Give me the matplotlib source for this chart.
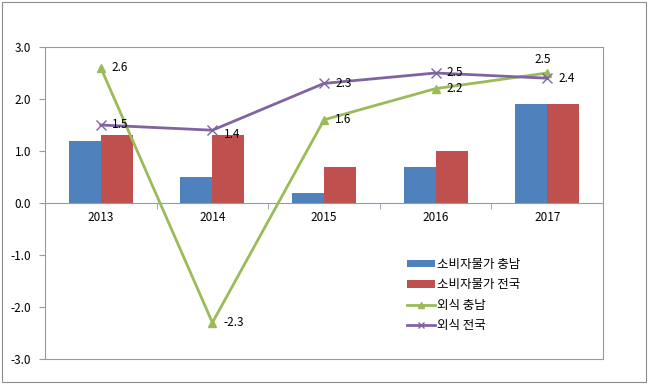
import numpy as np
import matplotlib.pyplot as plt
from matplotlib.patches import Rectangle
from matplotlib.lines import Line2D

plt.rcParams['font.family'] = ['Noto Sans CJK KR', 'DejaVu Sans']

years = ['2013', '2014', '2015', '2016', '2017']
cpi_chungnam = [1.2, 0.5, 0.2, 0.7, 1.9]
cpi_national = [1.3, 1.3, 0.7, 1.0, 1.9]
dining_chungnam = [2.6, -2.3, 1.6, 2.2, 2.5]
dining_national = [1.5, 1.4, 2.3, 2.5, 2.4]

labels = ['소비자물가 충남', '소비자물가 전국', '외식 충남', '외식 전국']

fig = plt.figure(figsize=(6.48, 3.84), dpi=100)
ax = fig.add_axes([45 / 648, 1 - 359 / 384, 558 / 648, 312 / 384])

x = np.arange(len(years))
w = 0.286
b1 = ax.bar(x - w / 2, cpi_chungnam, w, color='#4F81BD', zorder=2)
b2 = ax.bar(x + w / 2, cpi_national, w, color='#C0504D', zorder=2)
ax.plot(x, dining_chungnam, color='#9BBB59', lw=2.0, marker='^', ms=6, zorder=5)
ax.plot(x, dining_national, color='#8064A2', lw=2.0, marker='x', ms=7,
        mew=1.0, zorder=5)

# data labels
fs = 8.5
for i, v in enumerate(dining_chungnam):
    if i == 4:
        ax.annotate(f'{v:.1f}', (i, v), xytext=(-3, 5), textcoords='offset points',
                    fontsize=fs, ha='center', va='bottom', zorder=6)
    else:
        ax.annotate(f'{v:.1f}', (i, v), xytext=(8, 0), textcoords='offset points',
                    fontsize=fs, ha='left', va='center', zorder=6)
for i, v in enumerate(dining_national):
    dy = -3 if i == 1 else 0
    ax.annotate(f'{v:.1f}', (i, v), xytext=(8, dy), textcoords='offset points',
                fontsize=fs, ha='left', va='center', zorder=6)

ax.set_xlim(-0.5, 4.5)
ax.set_ylim(-3, 3)
ax.set_yticks(np.arange(-3, 3.1, 1))
ax.set_yticklabels([f'{t:.1f}' for t in np.arange(-3, 3.1, 1)], fontsize=fs)
ax.set_xticks([])
for s in ax.spines.values():
    s.set_color('#8C9DB0')
    s.set_linewidth(0.8)
ax.tick_params(axis='y', length=4, color='#8C9DB0', pad=6)

# category axis drawn at y = 0
sec = ax.secondary_xaxis(0.5)
sec.set_zorder(4)
sec.set_xticks(x, labels=years, fontsize=fs)
sec.set_xticks(np.arange(0.5, 4, 1), minor=True)
sec.tick_params(axis='x', which='both', bottom=True, top=False,
                labelbottom=True, labeltop=False, direction='out')
sec.tick_params(axis='x', which='major', length=0, pad=6)
sec.tick_params(axis='x', which='minor', length=4, color='#8C9DB0')
for s in sec.spines.values():
    s.set_color('#8C9DB0')
    s.set_linewidth(0.8)

h_lines = [
    Line2D([], [], color='#9BBB59', lw=2.0, marker='^', ms=4),
    Line2D([], [], color='#8064A2', lw=2.0, marker='x', ms=5, mew=1.0),
]
ax.legend([b1, b2] + h_lines, labels, loc='upper left',
          bbox_to_anchor=(0.64, 0.34), frameon=False,
          fontsize=9, handlelength=2.2, handleheight=0.6, labelspacing=0.6,
          borderaxespad=0, handletextpad=0.2)

fig.patches.append(Rectangle((0.003, 0.005), 0.994, 0.99, transform=fig.transFigure,
                             fill=False, edgecolor='#8C8C8C', lw=0.8))

fig.savefig('out.png', dpi=100)
